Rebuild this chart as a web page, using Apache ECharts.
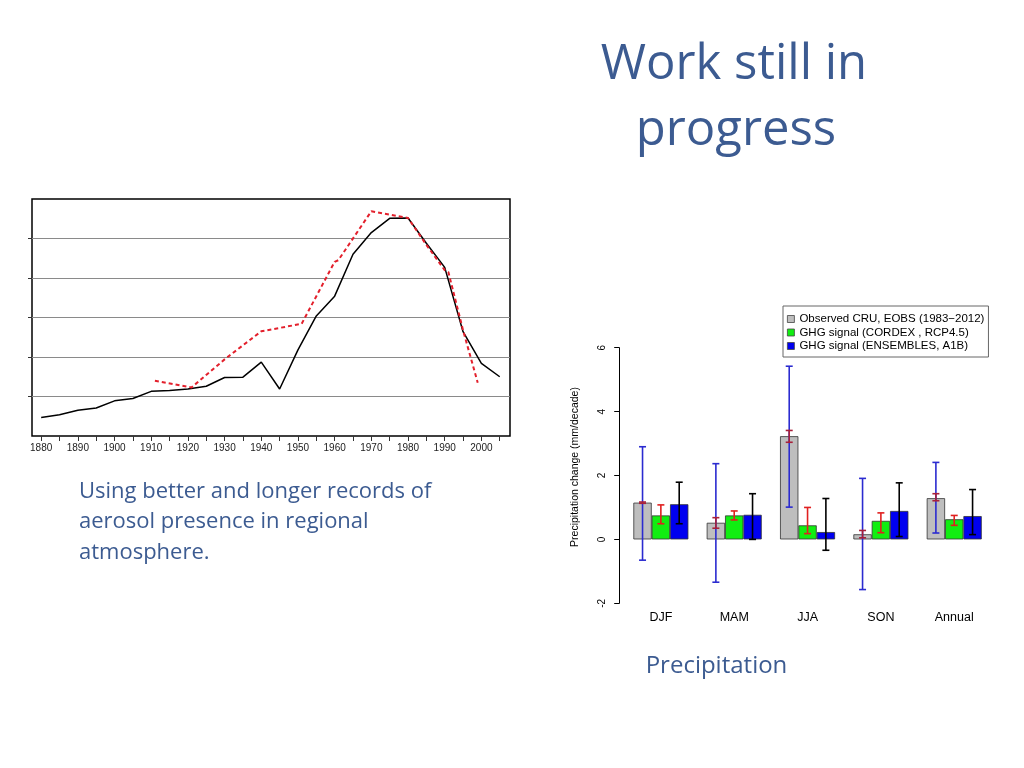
<!DOCTYPE html>
<html><head><meta charset="utf-8">
<script src="https://cdn.jsdelivr.net/npm/echarts@6/dist/echarts.min.js"></script>
<style>html,body{margin:0;padding:0;background:#fff}#c{width:1024px;height:768px}</style>
</head><body><div id="c"></div>
<script>
// ---- Left chart: aerosol record ----
const blackYears = [1880,1885,1890,1895,1900,1905,1910,1915,1920,1925,1930,1935,1940,1945,1950,1955,1960,1965,1970,1975,1980,1985,1990,1995,2000,2005];
const blackValues = [0.47,0.54,0.65,0.71,0.89,0.95,1.13,1.15,1.19,1.26,1.48,1.49,1.87,1.19,2.18,3.04,3.54,4.60,5.15,5.51,5.52,4.88,4.27,2.64,1.84,1.50];
const redYears = [1911,1921,1930,1940,1951,1960,1961,1970,1980,1985,1990,1991,1995,1999];
const redValues = [1.40,1.23,1.94,2.65,2.84,4.41,4.45,5.69,5.52,4.84,4.20,4.15,2.68,1.35];
const xTickYears = [1880,1885,1890,1895,1900,1905,1910,1915,1920,1925,1930,1935,1940,1945,1950,1955,1960,1965,1970,1975,1980,1985,1990,1995,2000,2005];
const xLabelYears = [1880,1890,1900,1910,1920,1930,1940,1950,1960,1970,1980,1990,2000];
const leftYTicks = [1,2,3,4,5];

// ---- Right chart: precipitation trends ----
const seasons = ['DJF','MAM','JJA','SON','Annual'];
const seriesNames = ['Observed CRU, EOBS (1983\u22122012)','GHG signal (CORDEX , RCP4.5)','GHG signal (ENSEMBLES, A1B)'];
const observed  = [1.15, 0.52, 3.23, 0.16, 1.29];
const cordex    = [0.75, 0.75, 0.44, 0.58, 0.63];
const ensembles = [1.10, 0.77, 0.23, 0.89, 0.73];
const obsWideLow   = [-0.65,-1.34,1.01,-1.57,0.20];
const obsWideHigh  = [2.90, 2.37, 5.42, 1.91, 2.41];
const obsNarrowLow = [1.13, 0.35, 3.04, 0.05, 1.21];
const obsNarrowHigh= [1.17, 0.68, 3.41, 0.28, 1.43];
const cordexLow    = [0.49, 0.61, 0.18, 0.21, 0.44];
const cordexHigh   = [1.08, 0.89, 1.00, 0.83, 0.75];
const ensLow       = [0.49, 0.00,-0.34, 0.09, 0.15];
const ensHigh      = [1.79, 1.43, 1.28, 1.77, 1.56];

const TXT = '#3c5b91';
const SANS = 'Liberation Sans, Arial, sans-serif';
const BODY = '"Open Sans"';

function zip(a,b){return a.map((v,i)=>[v,b[i]]);}
function errSeries(lo, hi, shift, color, width){
  return {
    type:'custom', xAxisIndex:1, yAxisIndex:1, z:5, silent:true,
    data: lo.map((v,i)=>[i,v,hi[i]]),
    encode:{x:0, y:[1,2]},
    renderItem(params, api){
      const band = api.size([1,0])[0];
      const dx = band*shift;
      const top = api.coord([api.value(0), api.value(2)]);
      const bot = api.coord([api.value(0), api.value(1)]);
      const x = top[0]+dx, c = 3.5;
      const st = {stroke:color, lineWidth:width};
      return {type:'group', children:[
        {type:'line', shape:{x1:x,y1:top[1],x2:x,y2:bot[1]}, style:st},
        {type:'line', shape:{x1:x-c,y1:top[1],x2:x+c,y2:top[1]}, style:st},
        {type:'line', shape:{x1:x-c,y1:bot[1],x2:x+c,y2:bot[1]}, style:st}
      ]};
    }
  };
}

const chart = echarts.init(document.getElementById('c'), null, {renderer:'canvas'});
chart.setOption({
  backgroundColor:'#fff',
  animation:false,
  graphic:[
    {type:'text', x:734, y:65, style:{text:'Work still in', font:'49px ' + BODY, fill:TXT, textAlign:'center', textVerticalAlign:'middle'}},
    {type:'text', x:736, y:131, style:{text:'progress', font:'49px ' + BODY, fill:TXT, textAlign:'center', textVerticalAlign:'middle'}},
    {type:'text', x:79, y:491.5, style:{text:'Using better and longer records of', font:'22px ' + BODY, fill:TXT, textAlign:'left', textVerticalAlign:'middle'}},
    {type:'text', x:79, y:522, style:{text:'aerosol presence in regional', font:'22px ' + BODY, fill:TXT, textAlign:'left', textVerticalAlign:'middle'}},
    {type:'text', x:79, y:552.5, style:{text:'atmosphere.', font:'22px ' + BODY, fill:TXT, textAlign:'left', textVerticalAlign:'middle'}},
    {type:'text', x:716.5, y:666, style:{text:'Precipitation', font:'24px ' + BODY, fill:TXT, textAlign:'center', textVerticalAlign:'middle'}},
    {type:'text', x:575, y:467, rotation:Math.PI/2, style:{text:'Precipitation change (mm/decade)', font:'10.5px Liberation Sans', fill:'#000', textAlign:'center', textVerticalAlign:'middle'}}
  ],
  legend:{
    data:seriesNames, orient:'vertical', left:783, top:306,
    padding:[7,4,5,4], itemWidth:7, itemHeight:7, itemGap:1.5, icon:'rect',
    borderColor:'#666', borderWidth:1,
    itemStyle:{borderColor:'#444', borderWidth:0.8},
    textStyle:{fontSize:11.5, fontFamily:SANS, color:'#000'}
  },
  grid:[
    {left:32, top:199, width:478, height:237, show:true, borderColor:'#000', borderWidth:1.5, backgroundColor:'transparent'},
    {left:624.2, top:347.7, width:366.7, height:255.6}
  ],
  xAxis:[
    {type:'value', gridIndex:0, min:1877.5, max:2007.8,
     axisLine:{show:false}, splitLine:{show:false},
     axisTick:{show:true, length:5, customValues:xTickYears, lineStyle:{color:'#333'}},
     axisLabel:{customValues:xLabelYears, formatter:(v)=>String(v), fontSize:10, fontFamily:SANS, color:'#222', margin:7}},
    {type:'category', gridIndex:1, data:seasons,
     axisLine:{show:false}, axisTick:{show:false},
     axisLabel:{fontSize:12.5, fontFamily:SANS, color:'#000', margin:8}}
  ],
  yAxis:[
    {type:'value', gridIndex:0, min:0, max:6, interval:1,
     axisLine:{show:false}, axisLabel:{show:false},
     axisTick:{show:true, length:4, customValues:leftYTicks, lineStyle:{color:'#333'}},
     splitLine:{show:true, lineStyle:{color:'#8a8a8a', width:1.2}}},
    {type:'value', gridIndex:1, min:-2, max:6, interval:2, offset:5,
     axisLine:{show:true, lineStyle:{color:'#000', width:1}},
     axisTick:{show:true, length:5, lineStyle:{color:'#000'}},
     splitLine:{show:false},
     axisLabel:{rotate:90, fontSize:10, fontFamily:SANS, color:'#000', margin:12}}
  ],
  series:[
    {type:'line', xAxisIndex:0, yAxisIndex:0, data:zip(blackYears,blackValues), symbol:'none',
     lineStyle:{color:'#000', width:1.5}, z:3},
    {type:'line', xAxisIndex:0, yAxisIndex:0, data:zip(redYears,redValues), symbol:'none',
     lineStyle:{color:'#e3202c', width:2, type:[4,3]}, z:4},
    {name:seriesNames[0], type:'bar', xAxisIndex:1, yAxisIndex:1, data:observed, barWidth:'25%', barGap:'0%',
     itemStyle:{color:'#bebebe', borderColor:'#333', borderWidth:0.8}},
    {name:seriesNames[1], type:'bar', xAxisIndex:1, yAxisIndex:1, data:cordex, barWidth:'25%', barGap:'0%',
     itemStyle:{color:'#11ee11', borderColor:'#333', borderWidth:0.8}},
    {name:seriesNames[2], type:'bar', xAxisIndex:1, yAxisIndex:1, data:ensembles, barWidth:'25%', barGap:'0%',
     itemStyle:{color:'#0000f0', borderColor:'#333', borderWidth:0.8}},
    errSeries(obsWideLow, obsWideHigh, -0.25, '#2b2bd0', 1.6),
    errSeries(obsNarrowLow, obsNarrowHigh, -0.25, '#a8203a', 1.6),
    errSeries(cordexLow, cordexHigh, 0, '#e02020', 1.6),
    errSeries(ensLow, ensHigh, 0.25, '#000', 1.6)
  ]
});
</script></body></html>
